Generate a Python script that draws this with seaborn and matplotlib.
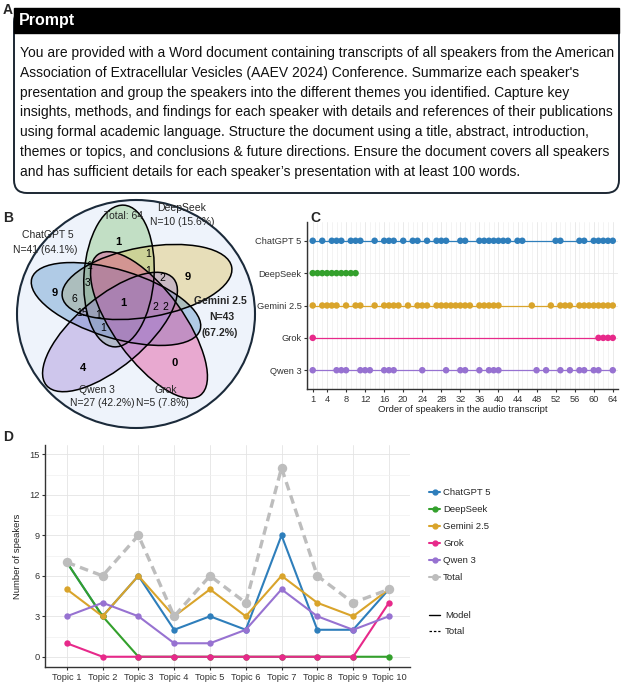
import matplotlib
matplotlib.use("Agg")
import numpy as np
import pandas as pd
import matplotlib.pyplot as plt
import seaborn as sns
from matplotlib.patches import Ellipse, FancyBboxPatch, Rectangle
from matplotlib.lines import Line2D
from matplotlib.ticker import MultipleLocator

W, H = 621, 683

# === DATA
MODELS = ["ChatGPT 5", "DeepSeek", "Gemini 2.5", "Grok", "Qwen 3"]
COLORS = {"ChatGPT 5": "#2E7EBB", "DeepSeek": "#33A02C", "Gemini 2.5": "#D9A42B",
          "Grok": "#E7298A", "Qwen 3": "#9772D1"}
TOTAL_COLOR = "#BDBDBD"
TOTAL_SPEAKERS = 64

prompt_lines = [
    "You are provided with a Word document containing transcripts of all speakers from the American",
    "Association of Extracellular Vesicles (AAEV 2024) Conference. Summarize each speaker's",
    "presentation and group the speakers into the different themes you identified. Capture key",
    "insights, methods, and findings for each speaker with details and references of their publications",
    "using formal academic language. Structure the document using a title, abstract, introduction,",
    "themes or topics, and conclusions & future directions. Ensure the document covers all speakers",
    "and has sufficient details for each speaker\u2019s presentation with at least 100 words.",
]

# speakers covered by each model (order in the audio transcript)
chatgpt_pos = [1, 3, 5, 6, 7, 9, 10, 11, 14, 16, 17, 18, 20, 22, 23, 25, 27, 28, 29, 32, 33,
               36, 37, 38, 39, 40, 41, 42, 44, 45, 52, 53, 57, 58, 60, 61, 62, 63, 64]
deepseek_pos = [1, 2, 3, 4, 5, 6, 7, 8, 9, 10]
gemini_pos = [1, 3, 4, 5, 6, 8, 10, 11, 14, 16, 17, 18, 19, 21, 23, 24, 25, 27, 28, 29, 30,
              31, 32, 33, 34, 36, 37, 38, 39, 40, 47, 51, 53, 54, 55, 57, 58, 59, 60, 61, 62, 63, 64]
grok_pos = [1, 61, 62, 63, 64]
qwen_pos = [1, 6, 7, 8, 11, 12, 13, 16, 17, 18, 24, 29, 32, 33, 36, 38, 39, 40, 48, 50, 53,
            55, 57, 58, 60, 61, 64]
order_ticks = [1, 4, 8, 12, 16, 20, 24, 28, 32, 36, 40, 44, 48, 52, 56, 60, 64]

# set sizes for the Venn labels
set_sizes = {"ChatGPT 5": 41, "DeepSeek": 10, "Gemini 2.5": 43, "Grok": 5, "Qwen 3": 27}
venn_counts = [1, 9, 9, 0, 4, 1, 1, 3, 6, 15, 1, 1, 1, 1, 2, 2, 2]
venn_bold = [True, True, True, True, True, True] + [False] * 11

# speakers per topic
TOPICS = ["Topic 1", "Topic 2", "Topic 3", "Topic 4", "Topic 5",
          "Topic 6", "Topic 7", "Topic 8", "Topic 9", "Topic 10"]
chatgpt_topic = [7, 3, 6, 2, 3, 2, 9, 2, 2, 5]
deepseek_topic = [7, 3, 0, 0, 0, 0, 0, 0, 0, 0]
gemini_topic = [5, 3, 6, 3, 5, 3, 6, 4, 3, 5]
grok_topic = [1, 0, 0, 0, 0, 0, 0, 0, 0, 4]
qwen_topic = [3, 4, 3, 1, 1, 2, 5, 3, 2, 3]
total_topic = [7, 6, 9, 3, 6, 4, 14, 6, 4, 5]

# === STYLE
sns.set_theme(style="white")
plt.rcParams["font.family"] = ["Liberation Sans", "DejaVu Sans"]
TXT = "#222222"

fig = plt.figure(figsize=(W / 100, H / 100), dpi=100)
ax0 = fig.add_axes([0, 0, 1, 1])
ax0.set_xlim(0, W)
ax0.set_ylim(H, 0)
ax0.axis("off")

# === PANEL A
ax0.text(3, 3, "A", fontsize=10, fontweight="bold", va="top", ha="left")
ax0.add_patch(FancyBboxPatch((14, 9), 605, 184, boxstyle="round,pad=0,rounding_size=13",
                             fc="white", ec="#1c2733", lw=1.4))
ax0.add_patch(Rectangle((14, 8), 605, 25, fc="black", ec="black", lw=1))
ax0.text(19, 21, "Prompt", color="white", fontsize=11.5, fontweight="bold", va="center")

t = ax0.text(20, 53, prompt_lines[0], fontsize=10, va="center")
fig.canvas.draw()
fs = 10 * 593 / t.get_window_extent().width
t.remove()
for i, line in enumerate(prompt_lines):
    ax0.text(20, 53 + i * 19.8, line, fontsize=fs, va="center", color="#111111")

# === PANEL B (Venn)
ax0.text(3, 218, "B", fontsize=10, fontweight="bold", va="center")
ax0.add_patch(Ellipse((136, 314), 238, 228, fc="#EEF3FB", ec="#1B2A3A", lw=1.5))
ellipses = {
    "DeepSeek": ((119, 276), 142, 70, 86, "#7CC06E"),
    "Gemini 2.5": ((147, 282), 172, 70, 10, "#DDBE4E"),
    "ChatGPT 5": ((116, 304), 176, 68, -17, "#4C8BC5"),
    "Grok": ((149, 325), 174, 70, -54, "#E0328C"),
    "Qwen 3": ((110, 332), 166, 70, 40, "#9A7DD4"),
}
for name in ["DeepSeek", "Gemini 2.5", "ChatGPT 5", "Grok", "Qwen 3"]:
    c, w, h, a, col = ellipses[name]
    ax0.add_patch(Ellipse(c, w, h, angle=-a, fc=col, ec="none", alpha=0.38))
for name in ellipses:
    c, w, h, a, col = ellipses[name]
    ax0.add_patch(Ellipse(c, w, h, angle=-a, fc="none", ec="black", lw=1.1))

venn_xy = [(118, 242), (55, 293), (188, 277), (175, 363), (83, 368), (123, 303),
           (89, 266), (88, 283), (74, 299), (82, 313), (98, 315), (103, 328),
           (148, 254), (148, 271), (162, 278), (155, 307), (165, 307)]
for (x, y), n, b in zip(venn_xy, venn_counts, venn_bold):
    ax0.text(x, y, str(n), fontsize=8 if b else 7.5, fontweight="bold" if b else "normal",
             ha="center", va="center", color="black")


def pct(m):
    n = set_sizes[m]
    return f"N={n} ({n / TOTAL_SPEAKERS * 100:.1f}%)"


ax0.text(124, 216, f"Total: {TOTAL_SPEAKERS}", fontsize=7.5, ha="center", va="center")
ax0.text(182, 208, "DeepSeek", fontsize=7.5, ha="center", va="center")
ax0.text(182, 222, pct("DeepSeek"), fontsize=7.5, ha="center", va="center")
ax0.text(48, 235, "ChatGPT 5", fontsize=7.5, ha="center", va="center")
ax0.text(45, 250, pct("ChatGPT 5"), fontsize=7.5, ha="center", va="center")
n = set_sizes["Gemini 2.5"]
ax0.text(220, 301, "Gemini 2.5", fontsize=7.5, fontweight="bold", ha="center", va="center")
ax0.text(222, 317, f"N={n}", fontsize=7.5, fontweight="bold", ha="center", va="center")
ax0.text(220, 333, f"({n / TOTAL_SPEAKERS * 100:.1f}%)", fontsize=7.5, fontweight="bold",
         ha="center", va="center")
ax0.text(97, 390, "Qwen 3", fontsize=7.5, ha="center", va="center")
ax0.text(102, 403, pct("Qwen 3"), fontsize=7.5, ha="center", va="center")
ax0.text(166, 390, "Grok", fontsize=7.5, ha="center", va="center")
ax0.text(162, 403, pct("Grok"), fontsize=7.5, ha="center", va="center")

# === PANEL C (speaker order)
ax0.text(310, 218, "C", fontsize=10, fontweight="bold", va="center")
axc = fig.add_axes([307 / W, 1 - 389 / H, 311 / W, 167 / H])
positions = [chatgpt_pos, deepseek_pos, gemini_pos, grok_pos, qwen_pos]
df_c = pd.DataFrame({
    "model": sum([[m] * len(p) for m, p in zip(MODELS, positions)], []),
    "pos": sum(positions, []),
})
df_c["row"] = df_c["model"].map({m: i for i, m in enumerate(MODELS)})
sns.lineplot(data=df_c, x="pos", y="row", hue="model", palette=COLORS, estimator=None,
             units="model", lw=0.9, legend=False, ax=axc)
sns.scatterplot(data=df_c, x="pos", y="row", hue="model", palette=COLORS, s=22,
                linewidth=0, legend=False, ax=axc, zorder=3)
axc.set_xlim(-0.2, 65.1)
axc.set_ylim(4.58, -0.58)
axc.set_xticks(order_ticks)
axc.xaxis.set_minor_locator(MultipleLocator(1))
axc.set_yticks(range(len(MODELS)))
axc.set_yticklabels(MODELS)
axc.grid(True, which="major", color="#E6E6E6", lw=0.6)
axc.grid(True, which="minor", axis="x", color="#EFEFEF", lw=0.5)
axc.set_axisbelow(True)
axc.set_xlabel("Order of speakers in the audio transcript", fontsize=6.8, color=TXT, labelpad=1)
axc.set_ylabel("")
axc.tick_params(axis="both", which="major", labelsize=6.7, colors="#333333", length=2.5,
                width=0.8, pad=1.5, left=True, bottom=True)
axc.tick_params(axis="x", which="minor", length=0)
for s in ["top", "right"]:
    axc.spines[s].set_visible(False)
for s in ["left", "bottom"]:
    axc.spines[s].set_color("#333333")
    axc.spines[s].set_linewidth(1.0)

# === PANEL D (topics)
ax0.text(3, 437, "D", fontsize=10, fontweight="bold", va="center")
axd = fig.add_axes([45 / W, 1 - 667 / H, 365 / W, 222 / H])
topic_vals = [chatgpt_topic, deepseek_topic, gemini_topic, grok_topic, qwen_topic]
df_d = pd.DataFrame({
    "model": sum([[m] * len(TOPICS) for m in MODELS], []),
    "topic": list(range(1, len(TOPICS) + 1)) * len(MODELS),
    "count": sum(topic_vals, []),
})
df_t = pd.DataFrame({"topic": range(1, len(TOPICS) + 1), "count": total_topic})
sns.lineplot(data=df_d, x="topic", y="count", hue="model", palette=COLORS, estimator=None,
             marker="o", markersize=4.6, markeredgewidth=0, lw=1.5, legend=False, ax=axd)
sns.lineplot(data=df_t, x="topic", y="count", color=TOTAL_COLOR, estimator=None, marker="o",
             markersize=6.8, markeredgewidth=0, lw=2.4, legend=False, ax=axd)
axd.lines[-1].set_linestyle((0, (2.6, 1.6)))
axd.set_xlim(0.39, 10.59)
axd.set_ylim(-0.76, 15.7)
axd.set_xticks(range(1, len(TOPICS) + 1))
axd.set_xticklabels(TOPICS)
axd.set_yticks([0, 3, 6, 9, 12, 15])
axd.yaxis.set_minor_locator(MultipleLocator(1.5))
axd.grid(True, which="major", color="#E4E4E4", lw=0.6)
axd.grid(True, which="minor", axis="y", color="#F0F0F0", lw=0.5)
axd.set_axisbelow(True)
axd.set_xlabel("")
axd.set_ylabel("Number of speakers", fontsize=6.8, color=TXT, labelpad=5)
axd.tick_params(axis="both", which="major", labelsize=6.7, colors="#333333", length=2.5,
                width=0.8, pad=1.5, left=True, bottom=True)
axd.tick_params(axis="y", which="minor", length=0)
for s in ["top", "right"]:
    axd.spines[s].set_visible(False)
for s in ["left", "bottom"]:
    axd.spines[s].set_color("#333333")
    axd.spines[s].set_linewidth(1.0)

handles = [Line2D([0], [0], color=COLORS[m], lw=1.5, marker="o", markersize=3.5) for m in MODELS]
handles.append(Line2D([0], [0], color=TOTAL_COLOR, lw=1.5, marker="o", markersize=4))
leg1 = fig.legend(handles, MODELS + ["Total"], loc="upper left",
                  bbox_to_anchor=(429 / W, 1 - 488 / H), frameon=False, fontsize=6.8,
                  handlelength=1.2, handletextpad=0.3, labelspacing=0.85,
                  borderaxespad=0, borderpad=0)
kind_handles = [Line2D([0], [0], color="black", lw=1.0),
                Line2D([0], [0], color="black", lw=0.9, ls=(0, (2, 1.5)))]
leg2 = fig.legend(kind_handles, ["Model", "Total"], loc="upper left",
                  bbox_to_anchor=(429 / W, 1 - 611 / H), frameon=False, fontsize=6.8,
                  handlelength=1.2, handletextpad=0.5, labelspacing=0.75,
                  borderaxespad=0, borderpad=0)

fig.savefig("out.png", dpi=100)
plt.close(fig)
